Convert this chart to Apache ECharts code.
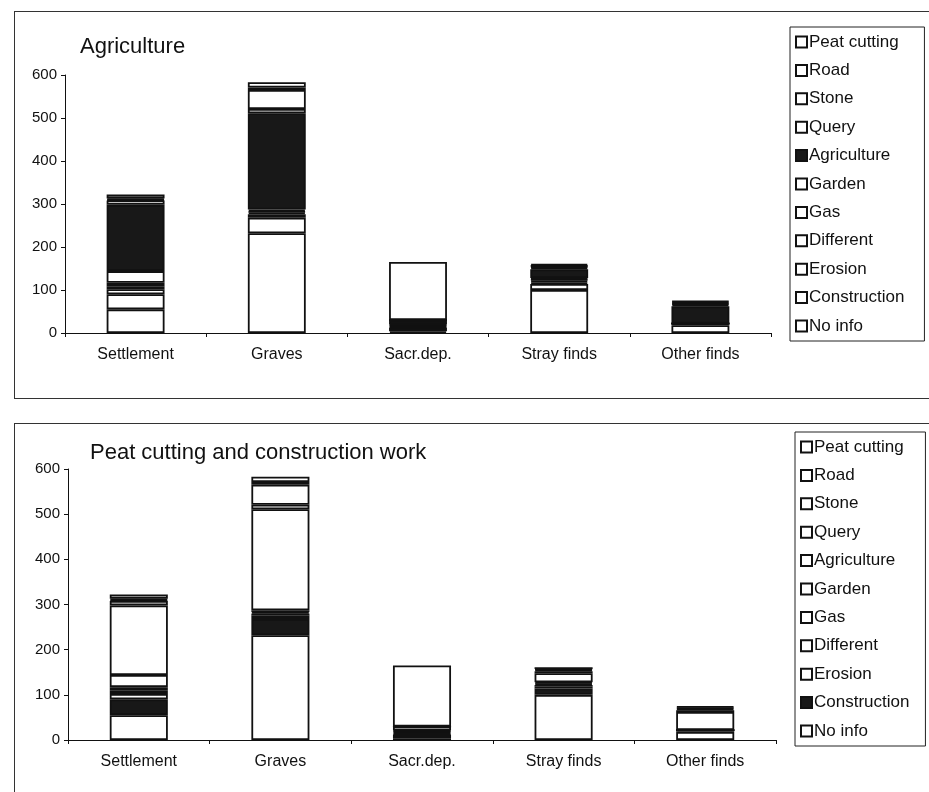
<!DOCTYPE html>
<html>
<head>
<meta charset="utf-8">
<script src="https://cdn.jsdelivr.net/npm/echarts@6/dist/echarts.min.js"></script>
<style>
  body { margin: 0; background: #fff; }
  .panel { position: absolute; border: 1px solid #333; }
  .chart { position: absolute; left: 0; width: 929px; }
</style>
</head>
<body>
<div class="panel" style="left:14px; top:11px; width:930px; height:386px;"></div>
<div class="panel" style="left:14px; top:423px; width:930px; height:400px;"></div>
<div id="top" class="chart" style="top:0; height:410px;"></div>
<div id="bottom" class="chart" style="top:410px; height:382px;"></div>
<script>
// categories and counts per cause of discovery (bottom of stack first)
var categories = ['Settlement', 'Graves', 'Sacr.dep.', 'Stray finds', 'Other finds'];
var noInfo       = [55, 232, 4, 100, 18];
var construction = [35, 36, 8, 14, 4];
var erosion      = [12, 8, 2, 4, 0];
var different    = [7, 4, 3, 4, 0];
var gas          = [8, 3, 2, 3, 0];
var garden       = [27, 4, 2, 3, 0];
var agriculture  = [154, 224, 9, 20, 40];
var query        = [10, 10, 0, 4, 4];
var stone        = [2, 44, 0, 3, 3];
var road         = [3, 6, 0, 2, 3];
var peatCutting  = [9, 12, 135, 4, 3];
var yMin = 0, yMax = 600, yStep = 100;

var seriesNames = ['No info', 'Construction', 'Erosion', 'Different', 'Gas', 'Garden',
  'Agriculture', 'Query', 'Stone', 'Road', 'Peat cutting'];
var seriesData = [noInfo, construction, erosion, different, gas, garden,
  agriculture, query, stone, road, peatCutting];

var FONT = '"Liberation Sans", Arial, sans-serif';
var INK = '#111';
var DARK = '#181818';

function buildOption(cfg) {
  var series = seriesNames.map(function (name, i) {
    var dark = name === cfg.darkName;
    return {
      name: name,
      type: 'bar',
      stack: 'all',
      barWidth: '41%',
      data: seriesData[i],
      itemStyle: {
        color: dark ? DARK : '#fff',
        borderColor: INK,
        borderWidth: 1.8
      },
      emphasis: { disabled: true }
    };
  });
  return {
    animation: false,
    textStyle: { fontFamily: FONT },
    title: {
      text: cfg.title,
      left: cfg.titleLeft,
      top: cfg.titleTop,
      textStyle: { fontFamily: FONT, fontSize: 22, fontWeight: 'normal', color: INK }
    },
    legend: {
      orient: 'vertical',
      left: cfg.legendLeft,
      top: cfg.legendTop,
      padding: [6, cfg.legendPadRight, 6, 5],
      borderColor: '#222',
      borderWidth: 1,
      itemWidth: 11,
      itemHeight: 11,
      itemGap: 10.4,
      icon: 'rect',
      selectedMode: false,
      data: seriesNames.slice().reverse(),
      itemStyle: { borderWidth: 2 },
      textStyle: { fontFamily: FONT, fontSize: 17, color: INK, lineHeight: 18, padding: [0, 0, 0, -3] }
    },
    grid: cfg.grid,
    xAxis: {
      type: 'category',
      data: categories,
      axisLine: { lineStyle: { color: INK, width: 1 } },
      axisTick: { show: true, length: 4, lineStyle: { color: INK } },
      axisLabel: { color: INK, fontSize: 16, margin: 14, fontFamily: FONT }
    },
    yAxis: {
      type: 'value',
      min: yMin,
      max: yMax,
      interval: yStep,
      axisLine: { show: true, lineStyle: { color: INK, width: 1 } },
      axisTick: { show: true, length: 4, lineStyle: { color: INK } },
      axisLabel: { color: INK, fontSize: 15, margin: 8, fontFamily: FONT },
      splitLine: { show: false }
    },
    series: series
  };
}

var topChart = echarts.init(document.getElementById('top'));
topChart.setOption(buildOption({
  title: 'Agriculture',
  darkName: 'Agriculture',
  titleLeft: 75, titleTop: 31,
  legendLeft: 790, legendTop: 27, legendPadRight: 20,
  grid: { left: 65, top: 75, width: 706, height: 258 }
}));

var bottomChart = echarts.init(document.getElementById('bottom'));
bottomChart.setOption(buildOption({
  title: 'Peat cutting and construction work',
  darkName: 'Construction',
  titleLeft: 85, titleTop: 27,
  legendLeft: 795, legendTop: 22, legendPadRight: 16,
  grid: { left: 68, top: 59, width: 708, height: 271 }
}));
</script>
</body>
</html>
